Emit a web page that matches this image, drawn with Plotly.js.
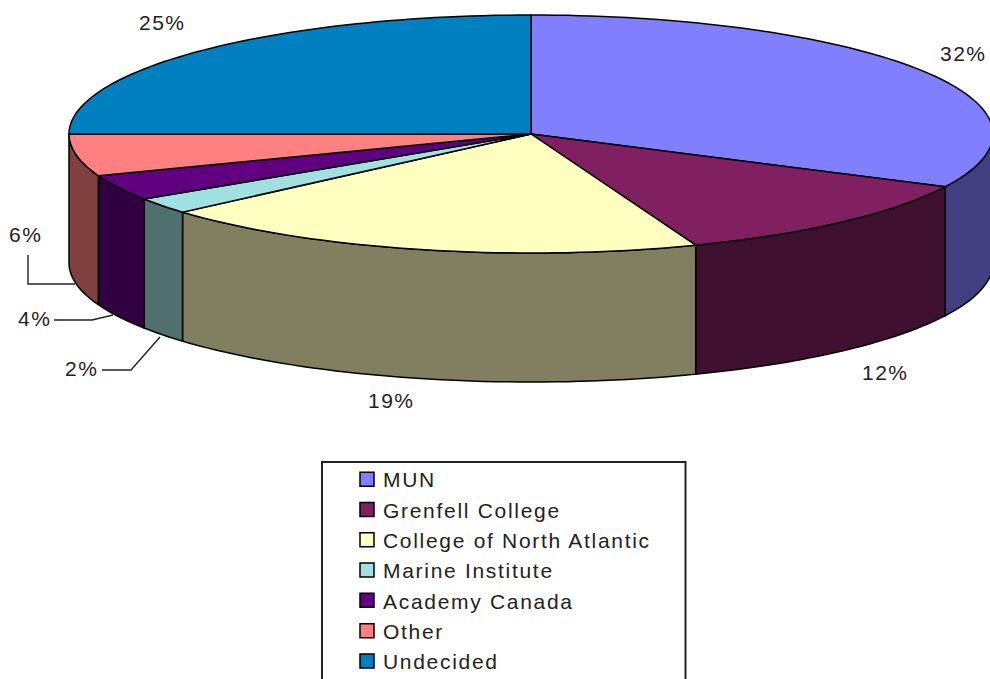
<!DOCTYPE html>
<html>
<head>
<meta charset="utf-8">
<script src="https://cdn.plot.ly/plotly-3.0.1.min.js"></script>
<style>
html,body{margin:0;padding:0;background:#fff;overflow:hidden}
.legendtext{letter-spacing:1.7px}
.annotation-text{letter-spacing:1.5px}
.legend .legendpoints{transform:translate(4px,0)}
</style>
</head>
<body>
<div id="chart" style="width:990px;height:679px"></div>
<script>
var categories = ["MUN","Grenfell College","College of North Atlantic","Marine Institute","Academy Canada","Other","Undecided"];
var shares = [32.3,11.9,19.4,2.2,3.5,5.7,25.0];
var topColors = ["#8080FF","#802060","#FFFFC0","#A0E0E0","#600080","#FF8080","#0080C0"];
var sideColors = ["#404080","#401030","#808060","#507070","#300040","#804040","#004060"];
var labelX = [963,885,391,81,34,25,162];
var labelY = [53,372,400,368,318,234,22];

var cx = 531, cy = 134, rx = 462, ry = 119, depth = 129;
var FONT = '"Liberation Sans", Arial, sans-serif';

function pt(deg, dy){
  var r = deg*Math.PI/180;
  return [cx+rx*Math.sin(r), cy-ry*Math.cos(r)+(dy||0)];
}
function arc(a0,a1,dy){
  var n = Math.max(2,Math.ceil(Math.abs(a1-a0)/1.5)), out=[];
  for(var i=0;i<=n;i++) out.push(pt(a0+(a1-a0)*i/n,dy));
  return out;
}
function poly(points,fill,name){
  return {type:"scatter",mode:"lines",x:points.map(function(p){return p[0]}),y:points.map(function(p){return p[1]}),
    fill:"toself",fillcolor:fill,line:{color:"#000",width:1.5,simplify:false},showlegend:false,hoverinfo:"skip",name:name};
}
var traces=[], sides=[], tops=[], start=0;
shares.forEach(function(v,i){
  var a0=start/100*360, a1=(start+v)/100*360; start+=v;
  var s0=Math.max(a0,90), s1=Math.min(a1,270);
  if(s1>s0){
    var pts=arc(s0,s1,0).concat(arc(s1,s0,depth));
    pts.push(pts[0]);
    sides.push(poly(pts,sideColors[i],categories[i]+" side"));
  }
  var t=[[cx,cy]].concat(arc(a0,a1,0)); t.push([cx,cy]);
  tops.push(poly(t,topColors[i],categories[i]));
});
traces=sides.concat(tops);

function leader(xs,ys){
  return {type:"scatter",mode:"lines",x:xs,y:ys,line:{color:"#222",width:1.4},showlegend:false,hoverinfo:"skip"};
}
traces.push(leader([28,28,75],[255,284,284]));
traces.push(leader([54,92,113],[320,320,315]));
traces.push(leader([102,131,160],[370,370,337]));

categories.forEach(function(c,i){
  traces.push({type:"scatter",mode:"markers",x:[null],y:[null],name:c,legendgroup:c,showlegend:true,
    marker:{symbol:"square",size:14,color:topColors[i],line:{color:"#000",width:1.5}},hoverinfo:"skip"});
});

var layout={
  width:990,height:679,margin:{l:0,r:0,t:0,b:0,autoexpand:false},paper_bgcolor:"#fff",plot_bgcolor:"#fff",
  xaxis:{range:[0,990],visible:false,fixedrange:true},
  yaxis:{range:[679,0],visible:false,fixedrange:true},
  showlegend:true,
  legend:{xref:"container",yref:"container",x:343/990,y:1-459/679,xanchor:"left",yanchor:"top",bgcolor:"rgba(0,0,0,0)",borderwidth:0,
    font:{family:FONT,size:21,color:"#222"},tracegroupgap:3,itemwidth:30,traceorder:"normal"},
  shapes:[{type:"rect",xref:"x",yref:"y",x0:322,x1:685.5,y0:462,y1:720,line:{color:"#222",width:2},fillcolor:"rgba(0,0,0,0)",layer:"below"}],
  annotations:shares.map(function(v,i){
    return {xref:"x",yref:"y",x:labelX[i],y:labelY[i],text:Math.round(v)+"%",showarrow:false,
      font:{family:FONT,size:21,color:"#222"},xanchor:"center",yanchor:"middle"};
  })
};
Plotly.newPlot("chart",traces,layout,{staticPlot:true,displayModeBar:false});
</script>
</body>
</html>
